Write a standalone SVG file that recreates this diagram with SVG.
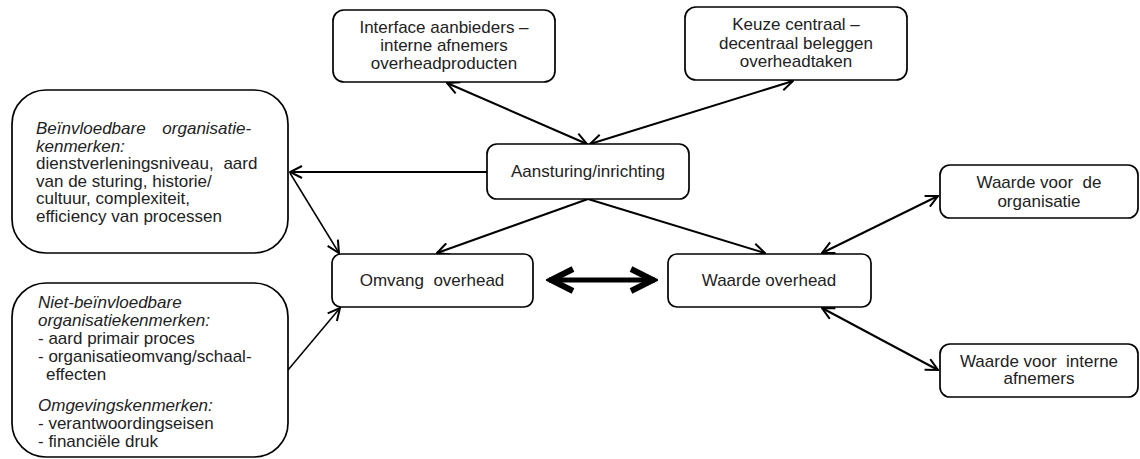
<svg xmlns="http://www.w3.org/2000/svg" width="1140" height="459" viewBox="0 0 1140 459">
<style>
.box{fill:#fff;stroke:#000;stroke-width:1.7}
.t{font-family:"Liberation Sans",Arial,sans-serif;font-size:17px;fill:#222}
.c{text-anchor:middle}
.i{font-style:italic}
.ln{fill:none;stroke:#000;stroke-width:2}
.thin{fill:none;stroke:#000;stroke-width:1.5}
.thick{fill:none;stroke:#000;stroke-width:5}
</style>
<defs>
<marker id="ah" viewBox="0 0 14 14" refX="13" refY="7" markerWidth="14" markerHeight="14" markerUnits="userSpaceOnUse" orient="auto-start-reverse">
<path d="M1,1 L13,7 L1,13" fill="none" stroke="#000" stroke-width="2"/>
</marker>
<marker id="ahb" viewBox="0 0 30 28" refX="27" refY="14" markerWidth="30" markerHeight="28" markerUnits="userSpaceOnUse" orient="auto-start-reverse">
<path d="M3,3 L25,14 L3,25" fill="none" stroke="#000" stroke-width="6"/>
</marker>
</defs>

<g id="connectors">
<line class="ln" x1="447" y1="83" x2="587" y2="144" marker-start="url(#ah)" marker-end="url(#ah)"/>
<line class="ln" x1="793" y1="81" x2="590" y2="144" marker-start="url(#ah)" marker-end="url(#ah)"/>
<line class="ln" x1="487" y1="172" x2="290" y2="172" marker-end="url(#ah)"/>
<line class="thin" x1="290" y1="173" x2="339" y2="253" marker-end="url(#ah)"/>
<line class="ln" x1="588" y1="199" x2="437" y2="253" marker-end="url(#ah)"/>
<line class="ln" x1="588" y1="199" x2="765" y2="253" marker-end="url(#ah)"/>
<line class="thin" x1="288" y1="370" x2="340" y2="308" marker-end="url(#ah)"/>
<line class="thick" x1="549" y1="280" x2="655" y2="280" marker-start="url(#ahb)" marker-end="url(#ahb)"/>
<line class="ln" x1="822" y1="253" x2="938" y2="196" marker-start="url(#ah)" marker-end="url(#ah)"/>
<line class="ln" x1="822" y1="308" x2="938" y2="370" marker-start="url(#ah)" marker-end="url(#ah)"/>
</g>

<g id="interface">
<rect class="box" x="333" y="10" width="222" height="72" rx="11"/>
<text class="t c" x="444" y="33">Interface aanbieders –</text>
<text class="t c" x="444" y="51">interne afnemers</text>
<text class="t c" x="444" y="69">overheadproducten</text>
</g>

<g id="keuze">
<rect class="box" x="685" y="7" width="222" height="73" rx="11"/>
<text class="t c" x="796" y="30">Keuze centraal –</text>
<text class="t c" x="796" y="48.5">decentraal beleggen</text>
<text class="t c" x="796" y="67">overheadtaken</text>
</g>

<g id="aansturing">
<rect class="box" x="487" y="144" width="202" height="55" rx="10"/>
<text class="t c" x="588" y="177">Aansturing/inrichting</text>
</g>

<g id="beinvloedbaar">
<rect class="box" x="12" y="90" width="276" height="163" rx="34"/>
<text class="t i" x="36" y="134" word-spacing="12">Beïnvloedbare organisatie-</text>
<text class="t i" x="36" y="151.6">kenmerken:</text>
<text class="t" x="36" y="169.2" word-spacing="5">dienstverleningsniveau, aard</text>
<text class="t" x="36" y="186.8">van de sturing, historie/</text>
<text class="t" x="36" y="204.4">cultuur, complexiteit,</text>
<text class="t" x="36" y="222">efficiency van processen</text>
</g>

<g id="nietbeinvloedbaar">
<rect class="box" x="12" y="283" width="276" height="174" rx="34"/>
<text class="t i" x="38" y="308">Niet-beïnvloedbare</text>
<text class="t i" x="38" y="326">organisatiekenmerken:</text>
<text class="t" x="38" y="344">- aard primair proces</text>
<text class="t" x="38" y="362">- organisatieomvang/schaal-</text>
<text class="t" x="46" y="380">effecten</text>
<text class="t i" x="38" y="411">Omgevingskenmerken:</text>
<text class="t" x="38" y="429">- verantwoordingseisen</text>
<text class="t" x="38" y="447">- financiële druk</text>
</g>

<g id="omvang">
<rect class="box" x="332" y="254" width="201" height="53" rx="9"/>
<text class="t c" x="432" y="286" xml:space="preserve">Omvang  overhead</text>
</g>

<g id="waarde">
<rect class="box" x="668" y="254" width="203" height="53" rx="9"/>
<text class="t c" x="769" y="286">Waarde overhead</text>
</g>

<g id="waarde-organisatie">
<rect class="box" x="940" y="165" width="198" height="53" rx="10"/>
<text class="t c" x="1039" y="188" xml:space="preserve">Waarde voor  de</text>
<text class="t c" x="1039" y="207">organisatie</text>
</g>

<g id="waarde-afnemers">
<rect class="box" x="940" y="344" width="198" height="53" rx="10"/>
<text class="t c" x="1039" y="367" xml:space="preserve">Waarde voor  interne</text>
<text class="t c" x="1039" y="384">afnemers</text>
</g>
</svg>
